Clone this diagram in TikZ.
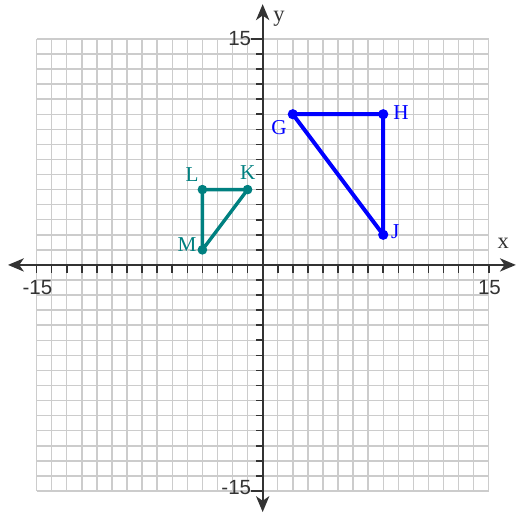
\documentclass[tikz,border=0pt]{standalone}
\usepackage{fontspec}
\setmainfont{Liberation Serif}
\newfontfamily\numfont{Liberation Sans}
\usetikzlibrary{arrows.meta}
\definecolor{gridgray}{HTML}{CCCCCC}
\definecolor{axisgray}{HTML}{333333}
\definecolor{tealc}{HTML}{008080}
\definecolor{bluec}{HTML}{0000FF}
\tikzset{
  gridline/.style={gridgray, line width=1.1pt},
  axisline/.style={axisgray, line width=1.5pt, {Stealth[length=12pt,width=10pt,inset=3.5pt]}-{Stealth[length=12pt,width=10pt,inset=3.5pt]}},
  tickline/.style={axisgray, line width=1.2pt},
  numlabel/.style={font=\numfont\fontsize{15.5}{18}\selectfont, text=axisgray, inner sep=0pt},
  axislabel/.style={font=\fontsize{17}{19}\selectfont, text=axisgray, inner sep=0pt},
  ptlabel/.style={font=\fontsize{16}{18}\selectfont, inner sep=0pt},
  blueline/.style={bluec, line width=3pt, line join=round},
  tealline/.style={tealc, line width=2.6pt, line join=round},
}
\begin{document}
\begin{tikzpicture}[x=0.4cm,y=0.4cm]
\useasboundingbox (-17.43,-16.52) rectangle (16.81,17.58);
\draw[gridline, step=1] (-15,-15) grid (15,15);
% axes
\coordinate (xl) at (-16.9,0);
\coordinate (xr) at (16.8,0);
\coordinate (yb) at (0,-16.4);
\coordinate (yt) at (0,17.3);
\draw[axisline] (xl) -- (xr);
\draw[axisline] (yb) -- (yt);
\foreach \i in {-15,...,-1,1,2,...,15} {
  \draw[tickline] (\i,0) -- (\i,-0.53);
}
\foreach \j in {-14,...,-1,1,2,...,14} {
  \draw[tickline] (0,\j) -- (-0.45,\j);
}
\draw[tickline] (0,15) -- (-0.75,15);
\draw[tickline] (0,-15) -- (-0.75,-15);
\node[numlabel, anchor=east] (ny15) at (-0.75,15) {15};
\node[numlabel, anchor=east] (nym15) at (-0.75,-14.75) {-15};
\node[numlabel] (nxm15) at (-14.95,-1.5) {-15};
\node[numlabel] (nx15) at (15.05,-1.5) {15};
\node[axislabel] (xlab) at (15.97,1.46) {x};
\node[axislabel] (ylab) at (1.08,16.35) {y};
% blue triangle
\coordinate (G) at (2,10);
\coordinate (H) at (8,10);
\coordinate (J) at (8,2);
\draw[blueline] (G) -- (H) -- (J) -- cycle;
\foreach \p in {G,H,J} \fill[bluec] (\p) circle (0.34);
\node[ptlabel, text=bluec] (Gl) at (1.08,9.09) {G};
\node[ptlabel, text=bluec] (Hl) at (9.18,10.09) {H};
\node[ptlabel, text=bluec] (Jl) at (8.8,2.19) {J};
% teal triangle
\coordinate (K) at (-1,5);
\coordinate (L) at (-4,5);
\coordinate (M) at (-4,1);
\draw[tealline] (K) -- (L) -- (M) -- cycle;
\foreach \p in {K,L,M} \fill[tealc] (\p) circle (0.32);
\node[ptlabel, text=tealc] (Kl) at (-0.98,6.1) {K};
\node[ptlabel, text=tealc] (Ll) at (-4.69,5.97) {L};
\node[ptlabel, text=tealc] (Ml) at (-5.02,1.33) {M};
\end{tikzpicture}
\end{document}
